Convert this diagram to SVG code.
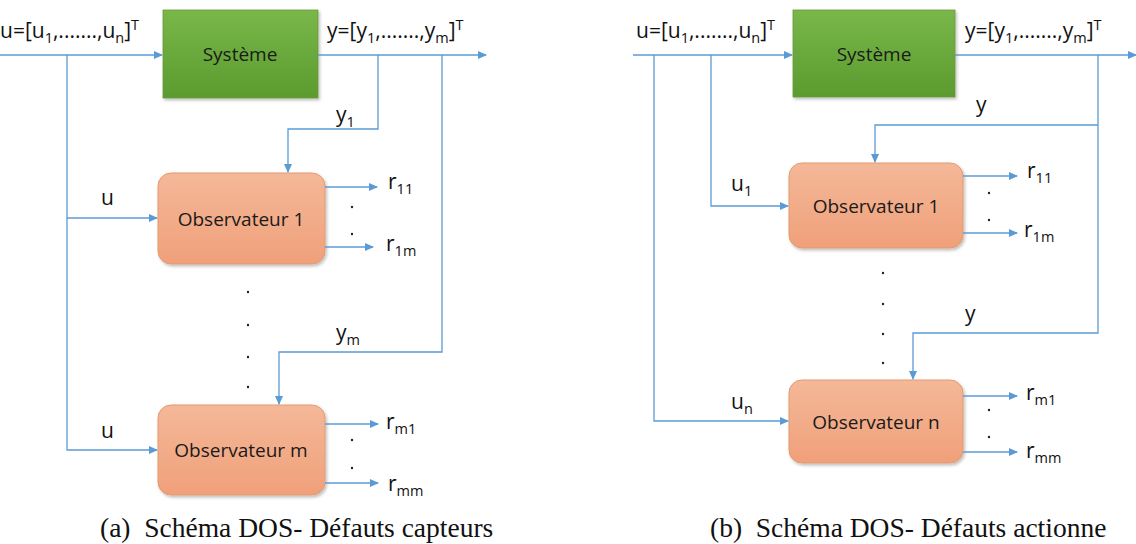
<svg xmlns="http://www.w3.org/2000/svg" width="1136" height="544" viewBox="0 0 1136 544">
<style>
.ln{fill:none;stroke:#5b9bd5;stroke-width:1.3}
.t{font-family:"Open Sans","Liberation Sans",sans-serif;font-size:21px;fill:#111}
.bt{font-family:"Open Sans","Liberation Sans",sans-serif;font-size:19px;fill:#1a1a1a;text-anchor:middle}
.sub{font-size:14.5px}
.cap{font-family:"Liberation Serif",serif;font-size:27.5px;fill:#111}
.dot{fill:#222}
.sys{fill:url(#gG);stroke:#6a9a3a;stroke-width:0.8}
.obs{fill:url(#gO);stroke:#e39a6e;stroke-width:1}
</style>
<defs>
<linearGradient id="gG" x1="0" y1="0" x2="0" y2="1"><stop offset="0" stop-color="#79b74a"/><stop offset="1" stop-color="#5b9b2e"/></linearGradient>
<linearGradient id="gO" x1="0" y1="0" x2="0" y2="1"><stop offset="0" stop-color="#f4b898"/><stop offset="1" stop-color="#f0a07a"/></linearGradient>
<filter id="sh" x="-10%" y="-10%" width="130%" height="130%"><feDropShadow dx="1.5" dy="2" stdDeviation="1.5" flood-color="#000" flood-opacity="0.25"/></filter>
<marker id="ar" markerWidth="9" markerHeight="8" refX="8" refY="4" orient="auto" markerUnits="userSpaceOnUse"><path d="M0,0 L9,4 L0,8 z" fill="#5b9bd5"/></marker>
</defs>

<!-- ========== (a) ========== -->
<g id="a-systeme"><rect class="sys" x="163" y="10" width="155" height="88" filter="url(#sh)"/><text class="bt" x="240" y="61">Système</text></g>
<g id="a-obs1"><rect class="obs" x="158" y="173" width="167" height="91" rx="13" filter="url(#sh)"/><text class="bt" x="241" y="226">Observateur 1</text></g>
<g id="a-obsm"><rect class="obs" x="158" y="405" width="167" height="90" rx="13" filter="url(#sh)"/><text class="bt" x="241" y="457">Observateur m</text></g>

<g id="a-connectors">
<path class="ln" d="M0,55 H162" marker-end="url(#ar)"/>
<path class="ln" d="M318,55 H486" marker-end="url(#ar)"/>
<path class="ln" d="M67,55 V450 H157" marker-end="url(#ar)"/>
<path class="ln" d="M67,218 H157" marker-end="url(#ar)"/>
<path class="ln" d="M378,55 V129 H288 V172" marker-end="url(#ar)"/>
<path class="ln" d="M442,55 V352 H279 V404" marker-end="url(#ar)"/>
<path class="ln" d="M325,187 H377" marker-end="url(#ar)"/>
<path class="ln" d="M325,247 H373" marker-end="url(#ar)"/>
<path class="ln" d="M325,424 H378" marker-end="url(#ar)"/>
<path class="ln" d="M325,483 H378" marker-end="url(#ar)"/>
</g>

<g id="a-labels">
<text class="t" x="0" y="38">u=[u<tspan class="sub" dy="5">1</tspan><tspan dy="-5">,.......,u</tspan><tspan class="sub" dy="5">n</tspan><tspan dy="-5">]</tspan><tspan class="sub" dy="-8">T</tspan></text>
<text class="t" x="327" y="38">y=[y<tspan class="sub" dy="5">1</tspan><tspan dy="-5">,.......,y</tspan><tspan class="sub" dy="5">m</tspan><tspan dy="-5">]</tspan><tspan class="sub" dy="-8">T</tspan></text>
<text class="t" x="336" y="122">y<tspan class="sub" dy="5">1</tspan></text>
<text class="t" x="336" y="340">y<tspan class="sub" dy="5">m</tspan></text>
<text class="t" x="101" y="205">u</text>
<text class="t" x="101" y="438">u</text>
<text class="t" x="388" y="189">r<tspan class="sub" dy="5">11</tspan></text>
<text class="t" x="386" y="251">r<tspan class="sub" dy="5">1m</tspan></text>
<text class="t" x="386" y="429">r<tspan class="sub" dy="5">m1</tspan></text>
<text class="t" x="388" y="491">r<tspan class="sub" dy="5">mm</tspan></text>
<circle class="dot" cx="352" cy="207" r="1.2"/><circle class="dot" cx="352" cy="234" r="1.2"/>
<circle class="dot" cx="352" cy="440" r="1.2"/><circle class="dot" cx="352" cy="468" r="1.2"/>
<circle class="dot" cx="248" cy="292" r="1.2"/><circle class="dot" cx="248" cy="325" r="1.2"/><circle class="dot" cx="248" cy="357" r="1.2"/><circle class="dot" cx="248" cy="387" r="1.2"/>
<text class="cap" x="100" y="537" xml:space="preserve">(a)  Schéma DOS- Défauts capteurs</text>
</g>

<!-- ========== (b) ========== -->
<g id="b-systeme"><rect class="sys" x="793" y="10" width="162" height="87" filter="url(#sh)"/><text class="bt" x="874" y="61">Système</text></g>
<g id="b-obs1"><rect class="obs" x="789" y="163" width="174" height="85" rx="13" filter="url(#sh)"/><text class="bt" x="876" y="213">Observateur 1</text></g>
<g id="b-obsn"><rect class="obs" x="789" y="380" width="174" height="83" rx="13" filter="url(#sh)"/><text class="bt" x="876" y="429">Observateur n</text></g>

<g id="b-connectors">
<path class="ln" d="M633,55 H792" marker-end="url(#ar)"/>
<path class="ln" d="M955,55 H1136" marker-end="url(#ar)"/>
<path class="ln" d="M654,55 V421 H788" marker-end="url(#ar)"/>
<path class="ln" d="M711,55 V206 H788" marker-end="url(#ar)"/>
<path class="ln" d="M1098,55 V333 H913 V379" marker-end="url(#ar)"/>
<path class="ln" d="M1098,125 H875 V162" marker-end="url(#ar)"/>
<path class="ln" d="M963,176 H1017" marker-end="url(#ar)"/>
<path class="ln" d="M963,233 H1017" marker-end="url(#ar)"/>
<path class="ln" d="M963,396 H1017" marker-end="url(#ar)"/>
<path class="ln" d="M963,452 H1017" marker-end="url(#ar)"/>
</g>

<g id="b-labels">
<text class="t" x="636" y="38">u=[u<tspan class="sub" dy="5">1</tspan><tspan dy="-5">,.......,u</tspan><tspan class="sub" dy="5">n</tspan><tspan dy="-5">]</tspan><tspan class="sub" dy="-8">T</tspan></text>
<text class="t" x="965" y="38">y=[y<tspan class="sub" dy="5">1</tspan><tspan dy="-5">,.......,y</tspan><tspan class="sub" dy="5">m</tspan><tspan dy="-5">]</tspan><tspan class="sub" dy="-8">T</tspan></text>
<text class="t" x="976" y="112">y</text>
<text class="t" x="965" y="321">y</text>
<text class="t" x="731" y="191">u<tspan class="sub" dy="5">1</tspan></text>
<text class="t" x="731" y="409">u<tspan class="sub" dy="5">n</tspan></text>
<text class="t" x="1027" y="178">r<tspan class="sub" dy="5">11</tspan></text>
<text class="t" x="1024" y="237">r<tspan class="sub" dy="5">1m</tspan></text>
<text class="t" x="1026" y="400">r<tspan class="sub" dy="5">m1</tspan></text>
<text class="t" x="1026" y="458">r<tspan class="sub" dy="5">mm</tspan></text>
<circle class="dot" cx="989" cy="193" r="1.2"/><circle class="dot" cx="989" cy="220" r="1.2"/>
<circle class="dot" cx="989" cy="410" r="1.2"/><circle class="dot" cx="989" cy="437" r="1.2"/>
<circle class="dot" cx="883" cy="273" r="1.2"/><circle class="dot" cx="883" cy="304" r="1.2"/><circle class="dot" cx="883" cy="334" r="1.2"/><circle class="dot" cx="883" cy="363" r="1.2"/>
<text class="cap" x="710" y="537" xml:space="preserve">(b)  Schéma DOS- Défauts actionne</text>
</g>
</svg>
